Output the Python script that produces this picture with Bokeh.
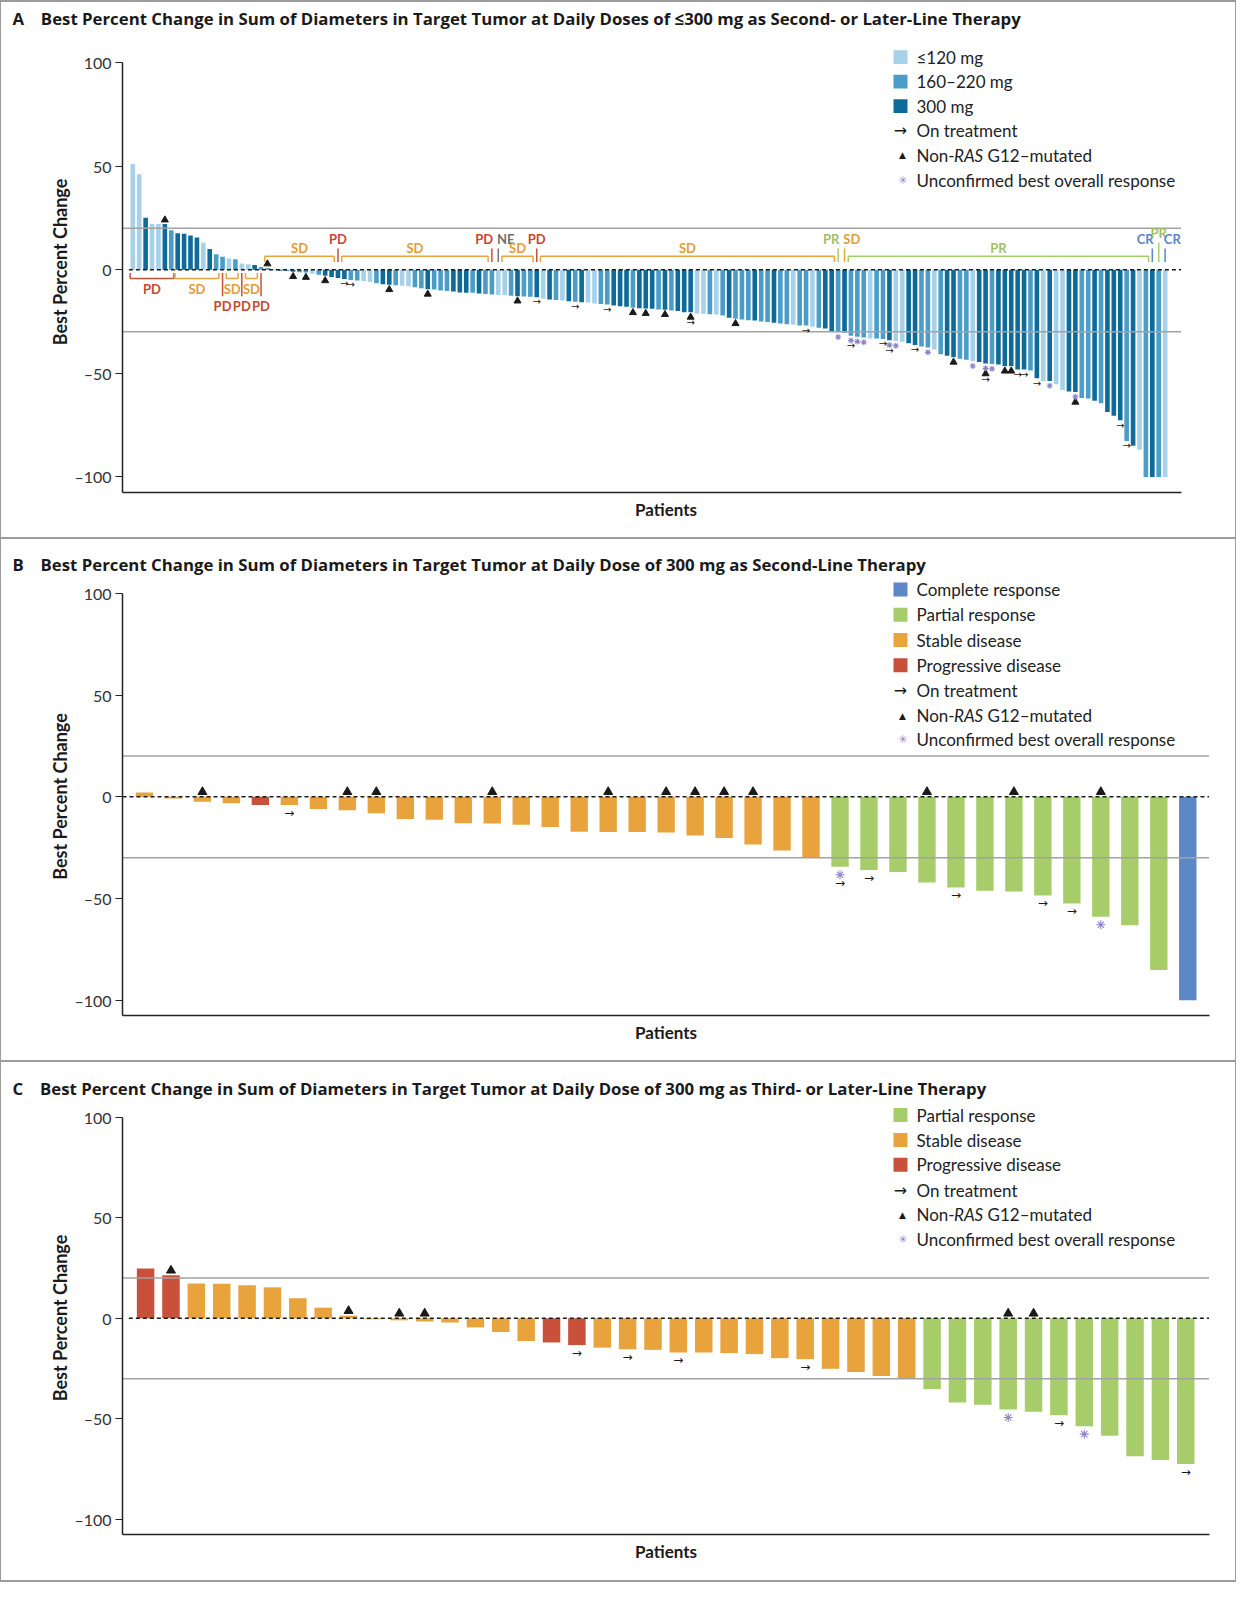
import math
from bokeh.plotting import figure
from bokeh.models import (ColumnDataSource, Range1d, Label, BoxAnnotation, FixedTicker, Div, Title)
from bokeh.layouts import column, row
from bokeh.embed import file_html
from bokeh.resources import INLINE
from bokeh.core.properties import value

# ---------------- data ----------------
y_ticks = [-100, -50, 0, 50, 100]
y_tick_labels = ["\u2013100", "\u201350", "0", "50", "100"]
ref_lines = [20, -30]

a_title = "Best Percent Change in Sum of Diameters in Target Tumor at Daily Doses of \u2264300 mg as Second- or Later-Line Therapy"
a_values = [51.0, 46.0, 25.0, 22.0, 22.0, 22.0, 19.0, 17.5, 17.3, 16.5,
            15.5, 13.0, 10.0, 7.4, 6.2, 5.4, 5.0, 3.0, 2.6, 2.2,
            1.3, 0.8, -0.3, -0.5, -0.6, -1.0, -1.2, -1.4, -2.0, -2.5,
            -3.0, -3.5, -4.0, -4.5, -5.0, -5.2, -5.5, -6.0, -6.5, -7.0,
            -7.3, -7.5, -7.8, -8.0, -8.5, -9.0, -9.5, -9.6, -10.0, -10.3,
            -10.5, -11.0, -11.1, -11.2, -11.5, -11.8, -12.0, -12.2, -12.4, -12.6,
            -12.8, -13.0, -13.1, -13.3, -14.0, -14.4, -14.7, -14.9, -15.2, -15.5,
            -15.7, -16.0, -16.3, -16.6, -16.8, -17.3, -17.6, -17.9, -18.4, -18.6,
            -18.8, -18.9, -19.2, -19.3, -19.7, -20.0, -20.5, -20.6, -21.2, -21.3,
            -21.5, -21.6, -22.1, -23.2, -23.7, -24.0, -24.4, -24.5, -25.0, -25.3,
            -25.6, -26.0, -26.3, -26.6, -26.9, -27.0, -27.6, -28.0, -28.4, -29.7,
            -30.2, -30.3, -31.9, -32.4, -32.7, -33.2, -33.2, -33.5, -34.1, -34.4,
            -34.8, -35.5, -36.3, -37.1, -37.6, -38.5, -40.8, -41.5, -42.3, -43.0,
            -43.5, -44.2, -44.5, -45.3, -45.5, -45.8, -46.6, -46.6, -48.2, -48.2,
            -48.7, -52.4, -53.7, -53.7, -55.3, -58.1, -58.8, -59.0, -61.9, -62.2,
            -63.2, -64.5, -68.7, -70.5, -72.7, -82.6, -85.0, -86.9, -100.0, -100.0,
            -100.0, -100.0]
a_dose = list("LLDLLDMDDD" "DLDMMLMLLD" "MMMDMDMMLM" "DDDDMMLLMD" "DMLLMMDMMM"
              "DDDMDMMLLM" "DMMDLDMLDM" "DLLMMDDDMD" "DDMDMDDDLL" "MLMDMMMDMM"
              "DMMLMMLMDD" "MDMMMLMMDL" "LDDMMLMDDM" "MLDDMDDDDD" "MDLDLLDDMM"
              "DMDDDMDLMD" "ML")
a_response_runs = [("PD", 7), ("SD", 7), ("PD", 1), ("SD", 2), ("PD", 1), ("SD", 2), ("PD", 1),
                   ("SD", 11), ("PD", 1), ("SD", 23), ("PD", 1), ("NE", 1), ("SD", 5), ("PD", 1),
                   ("SD", 46), ("PR", 1), ("SD", 1), ("PR", 47), ("CR", 1), ("PR", 1), ("CR", 1)]
a_triangle = [6, 22, 26, 28, 31, 41, 47, 61, 79, 81, 84, 88, 95, 129, 134, 137, 138, 148]
a_arrow = [34, 35, 64, 70, 75, 88, 106, 113, 118, 119, 123, 134, 139, 140, 142, 155, 156]
a_star = [111, 113, 114, 115, 119, 120, 125, 132, 134, 135, 144, 148]

b_title = "Best Percent Change in Sum of Diameters in Target Tumor at Daily Dose of 300 mg as Second-Line Therapy"
b_values = [2.1, -0.8, -2.4, -3.2, -4.0, -4.0, -6.0, -6.6, -8.1, -10.9,
            -11.3, -13.0, -13.1, -13.8, -14.9, -17.2, -17.3, -17.3, -17.5, -19.0,
            -20.3, -23.5, -26.4, -30.0, -34.4, -36.0, -37.0, -42.1, -44.6, -46.2,
            -46.5, -48.5, -52.4, -59.0, -63.2, -85.1, -100.0]
b_response_runs = [("SD", 4), ("PD", 1), ("SD", 19), ("PR", 12), ("CR", 1)]
b_triangle = [3, 8, 9, 13, 17, 19, 20, 21, 22, 28, 31, 34]
b_arrow = [6, 25, 26, 29, 32, 33]
b_star = [25, 34]

c_title = "Best Percent Change in Sum of Diameters in Target Tumor at Daily Dose of 300 mg as Third- or Later-Line Therapy"
c_values = [24.8, 21.4, 17.3, 17.2, 16.5, 15.4, 10.0, 5.3, 1.3, -0.5,
            -1.0, -1.6, -2.1, -4.5, -6.8, -11.3, -12.0, -13.3, -14.6, -15.4,
            -15.7, -17.0, -17.0, -17.3, -17.8, -19.8, -20.3, -25.1, -26.7, -28.7,
            -30.0, -35.2, -41.8, -43.0, -45.4, -46.5, -48.2, -53.7, -58.4, -68.6,
            -70.4, -72.5]
c_response_runs = [("PD", 2), ("SD", 14), ("PD", 2), ("SD", 13), ("PR", 11)]
c_triangle = [2, 9, 11, 12, 35, 36]
c_arrow = [18, 20, 22, 27, 37, 42]
c_star = [35, 38]

dose_names = {"L": "\u2264120 mg", "M": "160\u2013220 mg", "D": "300 mg"}
dose_colors = {"L": "#a7d1e9", "M": "#4b9dc8", "D": "#0e6b99"}
resp_names = {"CR": "Complete response", "PR": "Partial response",
              "SD": "Stable disease", "PD": "Progressive disease"}
resp_colors = {"CR": "#5b87c6", "PR": "#a7cd6b", "SD": "#e8a33d", "PD": "#c9513b", "NE": "#777777"}
resp_text_colors = {"CR": "#5b87c6", "PR": "#9dc262", "SD": "#e59c33", "PD": "#c4492f", "NE": "#6f6f6f"}

STAR_COLOR = "#8c84cc"
FONT = "Lato"
TITLE_FONT = "Open Sans"
FIG_W = 1234
MB_LEFT = 121
MB_RIGHT = 26
FRAME_W = FIG_W - MB_LEFT - MB_RIGHT
FRAME_LEFT_PAGE = 130.0


def expand(runs):
    out = []
    for lab, cnt in runs:
        out += [lab] * cnt
    return out


def runs_with_index(runs):
    out, k = [], 1
    for lab, cnt in runs:
        out.append((lab, k, k + cnt - 1))
        k += cnt
    return out


def make_panel(letter, title, values, colors, tri, arrow, star, legend, g, bracket_runs=None):
    n = len(values)
    xs = list(range(1, n + 1))
    frame_h = g["height"] - g["mbt"] - g["mbb"]
    ppu = g["ppu"]
    y_lo = -107.5
    y_hi = y_lo + frame_h / ppu
    x_lo = g["x_start"]
    ppx = g["ppx"]
    x_hi = x_lo + FRAME_W / ppx
    x_line_end = x_lo + (g["line_end_page"] - FRAME_LEFT_PAGE) / ppx
    ftop = g["top"] + g["mbt"]

    def px_x(page_x):
        return x_lo + (page_x - FRAME_LEFT_PAGE) / ppx

    def px_y(page_y):
        return y_hi - (page_y - ftop) / ppu

    p = figure(width=FIG_W, height=g["height"], x_range=Range1d(x_lo, x_hi),
               y_range=Range1d(y_lo, y_hi), min_border_left=MB_LEFT, min_border_right=MB_RIGHT,
               min_border_top=g["mbt"], min_border_bottom=g["mbb"], toolbar_location=None,
               output_backend="svg", title=None)
    p.background_fill_color = "white"
    p.border_fill_color = "white"
    p.outline_line_color = None
    p.xgrid.visible = False
    p.ygrid.visible = False

    p.add_layout(Title(text=letter + "\u2003" + title, align="left", offset=20 - FRAME_LEFT_PAGE,
                       standoff=4, vertical_align="bottom", text_font=TITLE_FONT,
                       text_font_style="bold", text_font_size="16.8px", text_color="#1a1a1a"),
                 "above")

    yax = p.yaxis[0]
    yax.ticker = FixedTicker(ticks=y_ticks)
    yax.major_label_overrides = dict(zip(y_ticks, y_tick_labels))
    yax.bounds = (y_lo, 100)
    yax.axis_line_color = "#222222"
    yax.axis_line_width = 1.5
    yax.major_tick_line_color = "#222222"
    yax.major_tick_line_width = 1.2
    yax.major_tick_out = 7
    yax.major_tick_in = 0
    yax.minor_tick_out = 0
    yax.minor_tick_in = 0
    yax.major_label_standoff = 4
    yax.major_label_text_font = FONT
    yax.major_label_text_font_size = "16px"
    yax.major_label_text_color = "#333333"
    yax.axis_label = "Best Percent Change"
    yax.axis_label_standoff = 0
    yax.axis_label_text_font = FONT
    yax.axis_label_text_font_size = "18px"
    yax.axis_label_text_font_style = "bold"
    yax.axis_label_text_color = "#1a1a1a"

    xax = p.xaxis[0]
    xax.ticker = FixedTicker(ticks=[])
    xax.bounds = (x_lo, x_line_end)
    xax.axis_line_color = "#222222"
    xax.axis_line_width = 1.5
    xax.major_tick_out = 0
    xax.major_tick_in = 0
    xax.minor_tick_out = 0
    xax.minor_tick_in = 0
    xax.major_label_standoff = 0
    xax.axis_label = "Patients"
    xax.axis_label_standoff = 6
    xax.axis_label_text_font = FONT
    xax.axis_label_text_font_size = "17px"
    xax.axis_label_text_font_style = "bold"
    xax.axis_label_text_color = "#1a1a1a"

    src = ColumnDataSource(dict(x=xs, top=values, color=colors))
    p.vbar(x="x", top="top", width=g["bw"], fill_color="color", line_color=None, source=src)

    # reference lines (+20 %, -30 %) and dashed zero line, spanning the plotted patient range
    p.segment(x0=[x_lo] * len(ref_lines), y0=ref_lines, x1=[x_line_end] * len(ref_lines),
              y1=ref_lines, line_color="#a2a2a2", line_width=1.5)
    p.segment(x0=[x_lo + g["dash_start"]], y0=[0], x1=[x_line_end], y1=[0], line_color="#1a1a1a",
              line_width=1.5, line_dash="4 3")

    # markers
    tx, ty, ax_, ay, sx, sy = [], [], [], [], [], []
    for k in xs:
        v = values[k - 1]
        below = []
        if k in star:
            below.append("star")
        if k in tri:
            if g["tri_at_zero"] or v > 0:
                tx.append(k)
                ty.append(max(v, 0) + g["tri_gap"])
            else:
                below.append("tri")
        if k in arrow:
            below.append("arrow")
        for i, kind in enumerate(below):
            yy = v - g["first"] - i * g["step"]
            if kind == "star":
                sx.append(k); sy.append(yy)
            elif kind == "tri":
                tx.append(k); ty.append(yy)
            else:
                ax_.append(k); ay.append(yy)
    p.scatter(tx, ty, marker="triangle", size=g["tri_size"], fill_color="#1a1a1a", line_color="#1a1a1a")
    p.scatter(sx, sy, marker="asterisk", size=g["star_size"], line_color=STAR_COLOR, line_width=1.1)
    p.text(ax_, ay, text=["\u2192"] * len(ax_), text_align="center", text_baseline="middle",
           text_font=value("DejaVu Sans"), text_font_size=g["arrow_font"], text_color="#1a1a1a")

    # response brackets (panel A)
    if bracket_runs is not None:
        runs = runs_with_index(bracket_runs)
        seg = dict(x0=[], y0=[], x1=[], y1=[], c=[])
        txt = dict(x=[], y=[], t=[], c=[], a=[])

        def add_seg(x0, y0, x1, y1, c):
            seg["x0"].append(x0); seg["y0"].append(y0); seg["x1"].append(x1); seg["y1"].append(y1); seg["c"].append(c)

        def add_txt(x, y, t, c, a):
            txt["x"].append(x); txt["y"].append(y); txt["t"].append(t); txt["c"].append(c); txt["a"].append(a)

        roles = {}
        i = 0
        while i < len(runs):
            j = i
            while j + 1 < len(runs) and runs[j][1] == runs[j][2] and runs[j + 1][1] == runs[j + 1][2] \
                    and runs[j + 1][1] == runs[j][2] + 1:
                j += 1
            if j > i:
                grp = list(range(i, j + 1))
                roles[grp[0]] = "left"
                roles[grp[-1]] = "right"
                for m in grp[1:-1]:
                    roles[m] = "up"
            i = j + 1

        for idx, (lab, s, e) in enumerate(runs):
            vals = values[s - 1:e]
            is_below = sum(vals) / len(vals) > 0
            col = resp_colors[lab]
            tcol = resp_text_colors[lab]
            if is_below:
                near, line, lab_y, tick_end, tick_lab = -1.6, -4.3, -9.3, -12.8, -17.3
            else:
                near, line, lab_y, tick_end, tick_lab = 3.7, 6.5, 10.3, 10.2, 15.0
            if e > s:
                x0, x1 = s - 0.42, e + 0.42
                add_seg(x0, line, x1, line, col)
                add_seg(x0, line, x0, near, col)
                add_seg(x1, line, x1, near, col)
                add_txt((s + e) / 2, lab_y, lab, tcol, "center")
            else:
                role = roles.get(idx, "center")
                if role == "up":
                    add_seg(s, near, s, 13.0, col)
                    add_txt(s, 17.8, lab, tcol, "center")
                elif role == "left":
                    add_seg(s, near, s, tick_end, col)
                    add_txt(s + 0.2, tick_lab, lab, tcol, "right")
                elif role == "right":
                    add_seg(s, near, s, tick_end, col)
                    add_txt(s - 0.2, tick_lab, lab, tcol, "left")
                else:
                    add_seg(s, near, s, tick_end, col)
                    add_txt(s, tick_lab, lab, tcol, "center")
        p.segment(x0="x0", y0="y0", x1="x1", y1="y1", line_color="c", line_width=1.5,
                  source=ColumnDataSource(seg))
        p.text(x="x", y="y", text="t", text_color="c", text_align="a", text_baseline="middle",
               text_font=value(FONT), text_font_style="bold", text_font_size="13px",
               source=ColumnDataSource(txt))

    # legend (annotations)
    lx_sw0, lx_sw1, lx_icon, lx_text = 901.0, 915.0, 908.0, 924.0
    for (kind, col, text), ry in zip(legend, g["legend_rows"]):
        yc = px_y(ry)
        if kind == "swatch":
            p.add_layout(BoxAnnotation(left=px_x(lx_sw0), right=px_x(lx_sw1), top=px_y(ry - 7),
                                       bottom=px_y(ry + 7), fill_color=col, fill_alpha=1.0,
                                       line_color=None))
        elif kind == "arrow":
            p.add_layout(Label(x=px_x(lx_icon), y=yc, text="\u2192", text_align="center",
                               text_baseline="middle", text_font="DejaVu Sans",
                               text_font_size="16px", text_color="#1a1a1a"))
        elif kind == "tri":
            p.add_layout(Label(x=px_x(lx_icon + 2), y=yc, text="\u25b2", text_align="center",
                               text_baseline="middle", text_font="DejaVu Sans",
                               text_font_size="9px", text_color="#1a1a1a"))
        elif kind == "star":
            p.add_layout(Label(x=px_x(lx_icon + 2), y=yc, text="\u2733", text_align="center",
                               text_baseline="middle", text_font="DejaVu Sans",
                               text_font_size="11px", text_color=STAR_COLOR))
        if "RAS" in text:
            pre, post = text.split("RAS")
            pieces = [(pre, "normal", 0.0), ("RAS", "italic", 37.5), (post.strip(), "normal", 37.5 + 30.0 + 3.5)]
            for t, st, dx in pieces:
                p.add_layout(Label(x=px_x(lx_text + dx), y=yc, text=t, text_align="left",
                                   text_baseline="middle", text_font=FONT, text_font_style=st,
                                   text_font_size="17px", text_color="#222222"))
        else:
            p.add_layout(Label(x=px_x(lx_text), y=yc, text=text, text_align="left",
                               text_baseline="middle", text_font=FONT, text_font_size="17px",
                               text_color="#222222"))
    return p


a_colors = [dose_colors[d] for d in a_dose]
b_colors = [resp_colors[r] for r in expand(b_response_runs)]
c_colors = [resp_colors[r] for r in expand(c_response_runs)]

common_markers = ["arrow", "tri", "star"]
marker_texts = {"arrow": "On treatment", "tri": "Non-RAS G12\u2013mutated",
                "star": "Unconfirmed best overall response"}

a_legend = [("swatch", dose_colors[d], dose_names[d]) for d in ["L", "M", "D"]] + \
           [(m, None, marker_texts[m]) for m in common_markers]
b_legend = [("swatch", resp_colors[r], resp_names[r]) for r in ["CR", "PR", "SD", "PD"]] + \
           [(m, None, marker_texts[m]) for m in common_markers]
c_legend = [("swatch", resp_colors[r], resp_names[r]) for r in ["PR", "SD", "PD"]] + \
           [(m, None, marker_texts[m]) for m in common_markers]

geom_a = dict(top=10, height=535, mbt=25, mbb=45, ppu=2.091, x_start=-0.606, ppx=6.412,
              line_end_page=1188.5, dash_start=1.0,
              bw=0.72, legend_rows=[60.8, 85.5, 110.3, 135.0, 159.8, 185.5],
              tri_size=7, star_size=6, arrow_font="10px", tri_at_zero=False, tri_gap=2.0,
              first=2.3, step=2.6)
geom_b = dict(top=547, height=521, mbt=38, mbb=45, ppu=2.0345, x_start=0.241, ppx=28.98,
              line_end_page=1216.6, dash_start=0.0,
              bw=0.6, legend_rows=[597, 622.2, 647.5, 672.7, 698, 723.2, 746.5],
              tri_size=9, star_size=9, arrow_font="12px", tri_at_zero=True, tri_gap=2.4,
              first=3.9, step=4.2)
geom_c = dict(top=1070, height=518, mbt=39, mbb=46, ppu=2.011, x_start=0.0895, ppx=25.37,
              line_end_page=1216.6, dash_start=0.25,
              bw=0.69, legend_rows=[1122.5, 1147.5, 1172.3, 1198.0, 1222.4, 1247.4],
              tri_size=9, star_size=9, arrow_font="12px", tri_at_zero=True, tri_gap=2.4,
              first=3.9, step=4.2)

pa = make_panel("A", a_title, a_values, a_colors, a_triangle, a_arrow, a_star, a_legend, geom_a,
                bracket_runs=a_response_runs)
pb = make_panel("B", b_title, b_values, b_colors, b_triangle, b_arrow, b_star, b_legend, geom_b)
pc = make_panel("C", c_title, c_values, c_colors, c_triangle, c_arrow, c_star, c_legend, geom_c)

LINE = "#9b9b9b"


def hline():
    return Div(text="", width=FIG_W, height=2, margin=0, styles={"background-color": LINE})


def vline():
    return Div(text="", width=1, height=1582, margin=0, styles={"background-color": LINE})


inner = column(hline(), pa, hline(), pb, hline(), pc, hline(), spacing=0, margin=0)
layout = row(vline(), inner, vline(), spacing=0, margin=0)

open("out.html", "w").write(file_html(layout, INLINE))
